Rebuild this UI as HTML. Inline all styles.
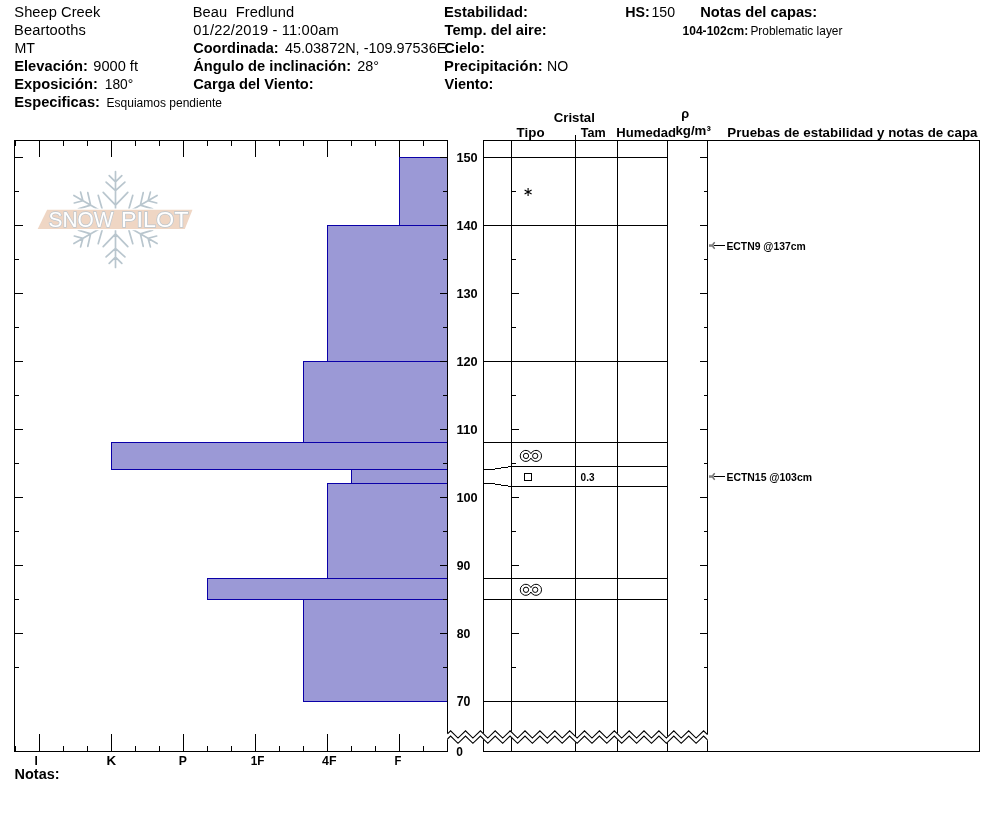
<!DOCTYPE html>
<html lang="es">
<head>
<meta charset="utf-8">
<title>Snow Pilot - Sheep Creek</title>
<style>
html,body{margin:0;padding:0;background:#fff;}
body{width:994px;height:840px;overflow:hidden;position:relative;font-family:"Liberation Sans",sans-serif;}
svg{position:absolute;left:0;top:0;display:block;}
text{font-family:"Liberation Sans",sans-serif;fill:#000;white-space:pre;}
.b{font-weight:bold;}
.k{fill:#000;shape-rendering:crispEdges;}
.bar{fill:#9b99d6;stroke:#0a00a8;stroke-width:1;shape-rendering:crispEdges;}
.s{fill:none;stroke:#000;stroke-width:1;}
.fl{fill:none;stroke:#b9c6ce;stroke-width:1.7;stroke-linecap:round;}
</style>
</head>
<body>
<svg width="994" height="840" viewBox="0 0 994 840">
<g id="logo">
<path class="fl" d="M115.5 208.5L115.5 171.5M115.5 205.2L127.8 192.4M115.5 205.2L103.2 192.4M115.5 190.7L124.9 182.1M115.5 190.7L106.1 182.1M115.5 181.8L121.8 175.6M115.5 181.8L109.2 175.6"/>
<path class="fl" d="M125.0 214.0L157.1 195.5M127.9 212.3L145.1 216.6M127.9 212.3L132.8 195.3M140.4 205.1L152.6 208.9M140.4 205.1L143.2 192.7M148.1 200.7L156.7 203.0M148.1 200.7L150.4 192.1"/>
<path class="fl" d="M125.0 225.0L157.1 243.5M127.9 226.7L132.8 243.7M127.9 226.7L145.1 222.4M140.4 233.9L143.2 246.3M140.4 233.9L152.6 230.1M148.1 238.3L150.4 246.9M148.1 238.3L156.7 236.0"/>
<path class="fl" d="M115.5 230.5L115.5 267.5M115.5 233.8L103.2 246.6M115.5 233.8L127.8 246.6M115.5 248.3L106.1 256.9M115.5 248.3L124.9 256.9M115.5 257.2L109.2 263.4M115.5 257.2L121.8 263.4"/>
<path class="fl" d="M106.0 225.0L73.9 243.5M103.1 226.7L85.9 222.4M103.1 226.7L98.2 243.7M90.6 233.9L78.4 230.1M90.6 233.9L87.8 246.3M82.9 238.4L74.3 236.0M82.9 238.4L80.6 246.9"/>
<path class="fl" d="M106.0 214.0L73.9 195.5M103.1 212.3L98.2 195.3M103.1 212.3L85.9 216.6M90.6 205.1L87.8 192.7M90.6 205.1L78.4 208.9M82.9 200.7L80.6 192.1M82.9 200.7L74.3 203.0"/>
<polygon points="47.1,209.8 192.5,209.8 184.8,229.1 37.7,229.1" fill="#efd6c4" stroke="#fff" stroke-width="2.4" stroke-linejoin="miter" style="paint-order:stroke"/>
<text x="48.6" y="227.3" font-size="22" textLength="65" lengthAdjust="spacingAndGlyphs" style="fill:#fff;stroke:#bcc6ce;stroke-width:1.4;paint-order:stroke">SNOW</text>
<text x="121" y="227.3" font-size="22" textLength="67.5" lengthAdjust="spacingAndGlyphs" style="fill:#fff;stroke:#bcc6ce;stroke-width:1.4;paint-order:stroke">PILOT</text>
</g>
<rect x="399.5" y="157.5" width="48" height="68" class="bar"/>
<rect x="327.5" y="225.5" width="120" height="136" class="bar"/>
<rect x="303.5" y="361.5" width="144" height="81" class="bar"/>
<rect x="111.5" y="442.5" width="336" height="27" class="bar"/>
<rect x="351.5" y="469.5" width="96" height="14" class="bar"/>
<rect x="327.5" y="483.5" width="120" height="95" class="bar"/>
<rect x="207.5" y="578.5" width="240" height="21" class="bar"/>
<rect x="303.5" y="599.5" width="144" height="102" class="bar"/>
<rect class="k" x="14" y="140" width="434" height="1"/>
<rect class="k" x="14" y="751" width="434" height="1"/>
<rect class="k" x="14" y="140" width="1" height="612"/>
<rect class="k" x="447" y="140" width="1" height="612"/>
<rect class="k" x="15" y="141" width="1" height="5"/>
<rect class="k" x="15" y="746" width="1" height="5"/>
<rect class="k" x="39" y="141" width="1" height="16"/>
<rect class="k" x="39" y="734" width="1" height="17"/>
<rect class="k" x="63" y="141" width="1" height="5"/>
<rect class="k" x="63" y="746" width="1" height="5"/>
<rect class="k" x="87" y="141" width="1" height="5"/>
<rect class="k" x="87" y="746" width="1" height="5"/>
<rect class="k" x="111" y="141" width="1" height="16"/>
<rect class="k" x="111" y="734" width="1" height="17"/>
<rect class="k" x="135" y="141" width="1" height="5"/>
<rect class="k" x="135" y="746" width="1" height="5"/>
<rect class="k" x="159" y="141" width="1" height="5"/>
<rect class="k" x="159" y="746" width="1" height="5"/>
<rect class="k" x="183" y="141" width="1" height="16"/>
<rect class="k" x="183" y="734" width="1" height="17"/>
<rect class="k" x="207" y="141" width="1" height="5"/>
<rect class="k" x="207" y="746" width="1" height="5"/>
<rect class="k" x="231" y="141" width="1" height="5"/>
<rect class="k" x="231" y="746" width="1" height="5"/>
<rect class="k" x="255" y="141" width="1" height="16"/>
<rect class="k" x="255" y="734" width="1" height="17"/>
<rect class="k" x="279" y="141" width="1" height="5"/>
<rect class="k" x="279" y="746" width="1" height="5"/>
<rect class="k" x="303" y="141" width="1" height="5"/>
<rect class="k" x="303" y="746" width="1" height="5"/>
<rect class="k" x="327" y="141" width="1" height="16"/>
<rect class="k" x="327" y="734" width="1" height="17"/>
<rect class="k" x="351" y="141" width="1" height="5"/>
<rect class="k" x="351" y="746" width="1" height="5"/>
<rect class="k" x="375" y="141" width="1" height="5"/>
<rect class="k" x="375" y="746" width="1" height="5"/>
<rect class="k" x="399" y="141" width="1" height="16"/>
<rect class="k" x="399" y="734" width="1" height="17"/>
<rect class="k" x="423" y="141" width="1" height="5"/>
<rect class="k" x="423" y="746" width="1" height="5"/>
<rect class="k" x="15" y="157" width="8" height="1"/>
<rect class="k" x="440" y="157" width="7" height="1"/>
<rect class="k" x="15" y="191" width="4" height="1"/>
<rect class="k" x="443" y="191" width="4" height="1"/>
<rect class="k" x="15" y="225" width="8" height="1"/>
<rect class="k" x="440" y="225" width="7" height="1"/>
<rect class="k" x="15" y="259" width="4" height="1"/>
<rect class="k" x="443" y="259" width="4" height="1"/>
<rect class="k" x="15" y="293" width="8" height="1"/>
<rect class="k" x="440" y="293" width="7" height="1"/>
<rect class="k" x="15" y="327" width="4" height="1"/>
<rect class="k" x="443" y="327" width="4" height="1"/>
<rect class="k" x="15" y="361" width="8" height="1"/>
<rect class="k" x="440" y="361" width="7" height="1"/>
<rect class="k" x="15" y="395" width="4" height="1"/>
<rect class="k" x="443" y="395" width="4" height="1"/>
<rect class="k" x="15" y="429" width="8" height="1"/>
<rect class="k" x="440" y="429" width="7" height="1"/>
<rect class="k" x="15" y="463" width="4" height="1"/>
<rect class="k" x="443" y="463" width="4" height="1"/>
<rect class="k" x="15" y="497" width="8" height="1"/>
<rect class="k" x="440" y="497" width="7" height="1"/>
<rect class="k" x="15" y="531" width="4" height="1"/>
<rect class="k" x="443" y="531" width="4" height="1"/>
<rect class="k" x="15" y="565" width="8" height="1"/>
<rect class="k" x="440" y="565" width="7" height="1"/>
<rect class="k" x="15" y="599" width="4" height="1"/>
<rect class="k" x="443" y="599" width="4" height="1"/>
<rect class="k" x="15" y="633" width="8" height="1"/>
<rect class="k" x="440" y="633" width="7" height="1"/>
<rect class="k" x="15" y="667" width="4" height="1"/>
<rect class="k" x="443" y="667" width="4" height="1"/>
<rect class="k" x="483" y="140" width="497" height="1"/>
<rect class="k" x="483" y="751" width="497" height="1"/>
<rect class="k" x="483" y="140" width="1" height="612"/>
<rect class="k" x="511" y="140" width="1" height="612"/>
<rect class="k" x="575" y="140" width="1" height="612"/>
<rect class="k" x="617" y="140" width="1" height="612"/>
<rect class="k" x="667" y="140" width="1" height="612"/>
<rect class="k" x="707" y="140" width="1" height="612"/>
<rect class="k" x="979" y="140" width="1" height="612"/>
<rect class="k" x="575" y="135" width="1" height="6"/>
<rect class="k" x="483" y="157" width="185" height="1"/>
<rect class="k" x="483" y="225" width="185" height="1"/>
<rect class="k" x="483" y="361" width="185" height="1"/>
<rect class="k" x="483" y="442" width="185" height="1"/>
<rect class="k" x="483" y="469" width="12" height="1"/>
<rect class="k" x="495" y="468" width="6" height="1"/>
<rect class="k" x="501" y="467" width="7" height="1"/>
<rect class="k" x="508" y="466" width="160" height="1"/>
<rect class="k" x="483" y="483" width="12" height="1"/>
<rect class="k" x="495" y="484" width="6" height="1"/>
<rect class="k" x="501" y="485" width="7" height="1"/>
<rect class="k" x="508" y="486" width="160" height="1"/>
<rect class="k" x="483" y="578" width="185" height="1"/>
<rect class="k" x="483" y="599" width="185" height="1"/>
<rect class="k" x="483" y="701" width="185" height="1"/>
<rect class="k" x="511" y="157" width="8" height="1"/>
<rect class="k" x="700" y="157" width="8" height="1"/>
<rect class="k" x="511" y="191" width="5" height="1"/>
<rect class="k" x="704" y="191" width="4" height="1"/>
<rect class="k" x="511" y="225" width="8" height="1"/>
<rect class="k" x="700" y="225" width="8" height="1"/>
<rect class="k" x="511" y="259" width="5" height="1"/>
<rect class="k" x="704" y="259" width="4" height="1"/>
<rect class="k" x="511" y="293" width="8" height="1"/>
<rect class="k" x="700" y="293" width="8" height="1"/>
<rect class="k" x="511" y="327" width="5" height="1"/>
<rect class="k" x="704" y="327" width="4" height="1"/>
<rect class="k" x="511" y="361" width="8" height="1"/>
<rect class="k" x="700" y="361" width="8" height="1"/>
<rect class="k" x="511" y="395" width="5" height="1"/>
<rect class="k" x="704" y="395" width="4" height="1"/>
<rect class="k" x="511" y="429" width="8" height="1"/>
<rect class="k" x="700" y="429" width="8" height="1"/>
<rect class="k" x="511" y="463" width="5" height="1"/>
<rect class="k" x="704" y="463" width="4" height="1"/>
<rect class="k" x="511" y="497" width="8" height="1"/>
<rect class="k" x="700" y="497" width="8" height="1"/>
<rect class="k" x="511" y="531" width="5" height="1"/>
<rect class="k" x="704" y="531" width="4" height="1"/>
<rect class="k" x="511" y="565" width="8" height="1"/>
<rect class="k" x="700" y="565" width="8" height="1"/>
<rect class="k" x="511" y="599" width="5" height="1"/>
<rect class="k" x="704" y="599" width="4" height="1"/>
<rect class="k" x="511" y="633" width="8" height="1"/>
<rect class="k" x="700" y="633" width="8" height="1"/>
<rect class="k" x="511" y="667" width="5" height="1"/>
<rect class="k" x="704" y="667" width="4" height="1"/>
<g class="s" style="stroke-width:1"><path d="M530.90 453.71A5.55 5.55 0 1 0 530.90 458.09A5.55 5.55 0 1 0 530.90 453.71Z"/><circle cx="526" cy="455.9" r="2.65"/><circle cx="535.2" cy="455.9" r="2.65"/></g>
<g class="s" style="stroke-width:1"><path d="M530.90 587.61A5.55 5.55 0 1 0 530.90 591.99A5.55 5.55 0 1 0 530.90 587.61Z"/><circle cx="526" cy="589.8" r="2.65"/><circle cx="535.2" cy="589.8" r="2.65"/></g>
<rect class="s" x="524.5" y="473.5" width="7" height="7" shape-rendering="crispEdges"/>
<path class="s" style="stroke-width:1.1" d="M528.1 188.1V195.9M524.6 190.1L531.6 193.9M531.6 190.1L524.6 193.9"/>
<rect class="k" x="714" y="245" width="11" height="1"/><path d="M709 244.3H713.7V246.8H709Z" fill="#808080"/><path d="M712.6 244.8L714.7 242.3M712.6 246.2L714.7 248.7" fill="none" stroke="#707070" stroke-width="1.5"/>
<rect class="k" x="714" y="476" width="11" height="1"/><path d="M709 475.3H713.7V477.8H709Z" fill="#808080"/><path d="M712.6 475.8L714.7 473.3M712.6 477.2L714.7 479.7" fill="none" stroke="#707070" stroke-width="1.5"/>
<polygon fill="#fff" stroke="#fff" stroke-width="1" points="447.5,733.8 450.6,730.8 458.0,738.1 465.5,730.8 472.9,738.1 480.4,730.8 487.8,738.1 495.2,730.8 502.7,738.1 510.1,730.8 517.6,738.1 525.0,730.8 532.4,738.1 539.9,730.8 547.3,738.1 554.8,730.8 562.2,738.1 569.6,730.8 577.1,738.1 584.5,730.8 592.0,738.1 599.4,730.8 606.8,738.1 614.3,730.8 621.7,738.1 629.2,730.8 636.6,738.1 644.0,730.8 651.5,738.1 658.9,730.8 666.4,738.1 673.8,730.8 681.2,738.1 688.7,730.8 696.1,738.1 703.6,730.8 707.5,734.7 707.5,739.9 703.6,736.0 696.1,743.3 688.7,736.0 681.2,743.3 673.8,736.0 666.4,743.3 658.9,736.0 651.5,743.3 644.0,736.0 636.6,743.3 629.2,736.0 621.7,743.3 614.3,736.0 606.8,743.3 599.4,736.0 592.0,743.3 584.5,736.0 577.1,743.3 569.6,736.0 562.2,743.3 554.8,736.0 547.3,743.3 539.9,736.0 532.4,743.3 525.0,736.0 517.6,743.3 510.1,736.0 502.7,743.3 495.2,736.0 487.8,743.3 480.4,736.0 472.9,743.3 465.5,736.0 458.0,743.3 450.6,736.0 447.5,739.0"/>
<polyline class="s" style="stroke-width:1.1" points="447.5,733.8 450.6,730.8 458.0,738.1 465.5,730.8 472.9,738.1 480.4,730.8 487.8,738.1 495.2,730.8 502.7,738.1 510.1,730.8 517.6,738.1 525.0,730.8 532.4,738.1 539.9,730.8 547.3,738.1 554.8,730.8 562.2,738.1 569.6,730.8 577.1,738.1 584.5,730.8 592.0,738.1 599.4,730.8 606.8,738.1 614.3,730.8 621.7,738.1 629.2,730.8 636.6,738.1 644.0,730.8 651.5,738.1 658.9,730.8 666.4,738.1 673.8,730.8 681.2,738.1 688.7,730.8 696.1,738.1 703.6,730.8 707.5,734.7"/>
<polyline class="s" style="stroke-width:1.1" points="447.5,739.0 450.6,736.0 458.0,743.3 465.5,736.0 472.9,743.3 480.4,736.0 487.8,743.3 495.2,736.0 502.7,743.3 510.1,736.0 517.6,743.3 525.0,736.0 532.4,743.3 539.9,736.0 547.3,743.3 554.8,736.0 562.2,743.3 569.6,736.0 577.1,743.3 584.5,736.0 592.0,743.3 599.4,736.0 606.8,743.3 614.3,736.0 621.7,743.3 629.2,736.0 636.6,743.3 644.0,736.0 651.5,743.3 658.9,736.0 666.4,743.3 673.8,736.0 681.2,743.3 688.7,736.0 696.1,743.3 703.6,736.0 707.5,739.9"/>
<text x="14.33" y="16.7" font-size="14.67" style="letter-spacing:0.044px" xml:space="preserve">Sheep Creek</text>
<text x="14.06" y="34.7" font-size="14.67" style="letter-spacing:0.095px" xml:space="preserve">Beartooths</text>
<text transform="translate(14.39 52.7) scale(0.9701 1)" font-size="14.67" xml:space="preserve">MT</text>
<text x="14.2" y="70.7" font-size="14.67" class="b" style="letter-spacing:0.044px" xml:space="preserve">Elevación:</text>
<text transform="translate(93.35 70.7) scale(0.9946 1)" font-size="14.67" xml:space="preserve">9000 ft</text>
<text x="14.2" y="88.7" font-size="14.67" class="b" style="letter-spacing:0.062px" xml:space="preserve">Exposición:</text>
<text transform="translate(104.73 88.7) scale(0.9417 1)" font-size="14.67" xml:space="preserve">180°</text>
<text x="14.2" y="106.7" font-size="14.67" class="b" style="letter-spacing:0.023px" xml:space="preserve">Especificas:</text>
<text x="106.6" y="106.7" font-size="12" xml:space="preserve">Esquiamos pendiente</text>
<text x="192.76" y="16.7" font-size="14.67" style="letter-spacing:0.096px" xml:space="preserve">Beau  Fredlund</text>
<text x="193.31" y="34.7" font-size="14.67" style="letter-spacing:0.164px" xml:space="preserve">01/22/2019 - 11:00am</text>
<text transform="translate(193.28 52.7) scale(0.9897 1)" font-size="14.67" class="b" xml:space="preserve">Coordinada:</text>
<text transform="translate(285.01 52.7) scale(0.9842 1)" font-size="14.67" xml:space="preserve">45.03872N, -109.97536E</text>
<text x="193.2" y="70.7" font-size="14.67" class="b" style="letter-spacing:0.039px" xml:space="preserve">Ángulo de inclinación:</text>
<text transform="translate(357.2 70.7) scale(0.9845 1)" font-size="14.67" xml:space="preserve">28°</text>
<text x="193.27" y="88.7" font-size="14.67" class="b" style="letter-spacing:0.008px" xml:space="preserve">Carga del Viento:</text>
<text x="444.0" y="16.7" font-size="14.67" class="b" style="letter-spacing:0.075px" xml:space="preserve">Estabilidad:</text>
<text x="444.6" y="34.7" font-size="14.67" class="b" style="letter-spacing:-0.014px" xml:space="preserve">Temp. del aire:</text>
<text transform="translate(444.37 52.7) scale(0.9945 1)" font-size="14.67" class="b" xml:space="preserve">Cielo:</text>
<text x="444.0" y="70.7" font-size="14.67" class="b" style="letter-spacing:0.13px" xml:space="preserve">Precipitación:</text>
<text transform="translate(547.0 70.7) scale(0.9637 1)" font-size="14.67" xml:space="preserve">NO</text>
<text transform="translate(444.48 88.7) scale(0.9879 1)" font-size="14.67" class="b" xml:space="preserve">Viento:</text>
<text transform="translate(625.23 16.7) scale(0.9746 1)" font-size="14.67" class="b" xml:space="preserve">HS:</text>
<text transform="translate(651.4 16.7) scale(0.9647 1)" font-size="14.67" xml:space="preserve">150</text>
<text x="700.2" y="16.7" font-size="14.67" class="b" style="letter-spacing:0.033px" xml:space="preserve">Notas del capas:</text>
<text x="682.48" y="34.7" font-size="12" class="b" style="letter-spacing:0.038px" xml:space="preserve">104-102cm:</text>
<text transform="translate(750.41 34.7) scale(0.9935 1)" font-size="12" xml:space="preserve">Problematic layer</text>
<text transform="translate(553.75 122) scale(0.9924 1)" font-size="13.33" class="b" xml:space="preserve">Cristal</text>
<text x="516.61" y="137" font-size="13.33" class="b" style="letter-spacing:0.042px" xml:space="preserve">Tipo</text>
<text transform="translate(580.82 137) scale(0.9454 1)" font-size="13.33" class="b" xml:space="preserve">Tam</text>
<text transform="translate(616.34 137) scale(0.9829 1)" font-size="13.33" class="b" xml:space="preserve">Humedad</text>
<text x="681.23" y="118" font-size="12.8" class="b" xml:space="preserve">ρ</text>
<text transform="translate(675.47 134.5) scale(0.9947 1)" font-size="13.33" class="b" xml:space="preserve">kg/m³</text>
<text x="727.32" y="137" font-size="13.33" class="b" style="letter-spacing:0.035px" xml:space="preserve">Pruebas de estabilidad y notas de capa</text>
<text transform="translate(34.57 764.6) scale(0.8937 1)" font-size="13.33" class="b" xml:space="preserve">I</text>
<text x="106.39" y="764.6" font-size="13.33" class="b" xml:space="preserve">K</text>
<text transform="translate(178.75 764.6) scale(0.9154 1)" font-size="13.33" class="b" xml:space="preserve">P</text>
<text transform="translate(250.87 764.6) scale(0.8782 1)" font-size="13.33" class="b" xml:space="preserve">1F</text>
<text transform="translate(322.07 764.6) scale(0.9312 1)" font-size="13.33" class="b" xml:space="preserve">4F</text>
<text transform="translate(394.62 764.6) scale(0.8452 1)" font-size="13.33" class="b" xml:space="preserve">F</text>
<text transform="translate(14.61 778.6) scale(0.9851 1)" font-size="14.67" class="b" xml:space="preserve">Notas:</text>
<text transform="translate(456.31 755.6) scale(0.8741 1)" font-size="13.7" class="b" xml:space="preserve">0</text>
<text transform="translate(726.43 250) scale(0.9727 1)" font-size="10.67" class="b" xml:space="preserve">ECTN9 @137cm</text>
<text transform="translate(726.42 481) scale(0.9793 1)" font-size="10.67" class="b" xml:space="preserve">ECTN15 @103cm</text>
<text transform="translate(580.62 481) scale(0.9463 1)" font-size="10.6" class="b" xml:space="preserve">0.3</text>
<text transform="translate(456.41 161.55) scale(0.9325 1)" font-size="13.7" class="b" xml:space="preserve">150</text>
<text transform="translate(456.41 229.55) scale(0.9325 1)" font-size="13.7" class="b" xml:space="preserve">140</text>
<text transform="translate(456.41 297.55) scale(0.9325 1)" font-size="13.7" class="b" xml:space="preserve">130</text>
<text transform="translate(456.41 365.55) scale(0.9325 1)" font-size="13.7" class="b" xml:space="preserve">120</text>
<text transform="translate(456.39 433.55) scale(0.9654 1)" font-size="13.7" class="b" xml:space="preserve">110</text>
<text transform="translate(456.41 501.55) scale(0.9325 1)" font-size="13.7" class="b" xml:space="preserve">100</text>
<text transform="translate(456.78 569.55) scale(0.8944 1)" font-size="13.7" class="b" xml:space="preserve">90</text>
<text transform="translate(456.8 637.55) scale(0.8925 1)" font-size="13.7" class="b" xml:space="preserve">80</text>
<text transform="translate(456.7 705.55) scale(0.8997 1)" font-size="13.7" class="b" xml:space="preserve">70</text>
</svg>
</body>
</html>
